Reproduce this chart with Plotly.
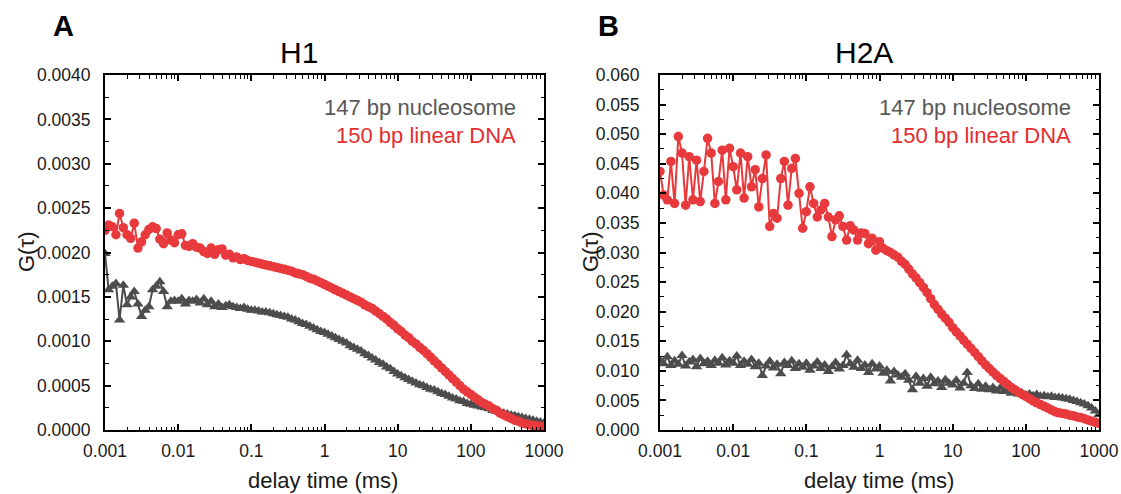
import plotly.graph_objects as go

# lag times (ms)
T = [0.001, 0.00112, 0.00126, 0.00141, 0.00158, 0.00178, 0.002, 0.00224, 0.00251, 0.00282,
     0.00316, 0.00355, 0.00398, 0.00447, 0.00501, 0.00562, 0.00631, 0.00708, 0.00794, 0.00891,
     0.01, 0.0112, 0.0126, 0.0141, 0.0158, 0.0178, 0.02, 0.0224, 0.0251, 0.0282,
     0.0316, 0.0355, 0.0398, 0.0447, 0.0501, 0.0562, 0.0631, 0.0708, 0.0794, 0.0891,
     0.1, 0.112, 0.126, 0.141, 0.158, 0.178, 0.2, 0.224, 0.251, 0.282,
     0.316, 0.355, 0.398, 0.447, 0.501, 0.562, 0.631, 0.708, 0.794, 0.891,
     1.0, 1.12, 1.26, 1.41, 1.58, 1.78, 2.0, 2.24, 2.51, 2.82,
     3.16, 3.55, 3.98, 4.47, 5.01, 5.62, 6.31, 7.08, 7.94, 8.91,
     10, 11.2, 12.6, 14.1, 15.8, 17.8, 20, 22.4, 25.1, 28.2,
     31.6, 35.5, 39.8, 44.7, 50.1, 56.2, 63.1, 70.8, 79.4, 89.1,
     100, 112, 126, 141, 158, 178, 200, 224, 251, 282,
     316, 355, 398, 447, 501, 562, 631, 708, 794, 891, 1000]

# Panel A: H1
h1_nucleosome = [0.00199, 0.00158, 0.00162, 0.00165, 0.00124, 0.00163, 0.00141, 0.0015, 0.00156, 0.00142,
                 0.00128, 0.00135, 0.00139, 0.00158, 0.00162, 0.00167, 0.00156, 0.00139, 0.00145, 0.00146,
                 0.00145, 0.00148, 0.00142, 0.00146, 0.00145, 0.00147, 0.00143, 0.00148, 0.00141, 0.00145,
                 0.00139, 0.00142, 0.00138, 0.0014, 0.00141, 0.00139, 0.00138, 0.00137, 0.00138, 0.00136,
                 0.00135, 0.00135, 0.00134, 0.00133, 0.00133, 0.00132, 0.00131, 0.0013, 0.00129, 0.00128,
                 0.00127, 0.00125, 0.00124, 0.00122, 0.0012, 0.00119, 0.00117, 0.00115, 0.00113, 0.00111,
                 0.0011, 0.00108, 0.00106, 0.00104, 0.00102, 0.001, 0.00098, 0.00095, 0.00093, 0.00091,
                 0.00089, 0.00086, 0.00084, 0.00081, 0.00079, 0.00076, 0.00074, 0.00071, 0.00069, 0.00066,
                 0.00063, 0.00061, 0.00059, 0.00057, 0.00055, 0.00053, 0.00051, 0.0005, 0.00048, 0.00046,
                 0.00045, 0.00043, 0.00041, 0.0004, 0.00038, 0.00036, 0.00035, 0.00033, 0.00032, 0.0003,
                 0.00029, 0.00028, 0.00027, 0.00026, 0.00025, 0.00024, 0.00022, 0.00021, 0.0002, 0.00019,
                 0.00018, 0.00017, 0.00016, 0.00015, 0.00014, 0.00013, 0.00012, 0.00011, 0.0001, 0.00009, 0.00008]

h1_linear_dna = [0.00225, 0.00231, 0.00229, 0.0022, 0.00244, 0.00228, 0.0022, 0.00216, 0.00233, 0.00205,
                 0.00212, 0.0022, 0.00226, 0.00229, 0.00227, 0.00215, 0.0021, 0.00222, 0.00214, 0.00211,
                 0.0022, 0.00221, 0.00208, 0.00207, 0.0021, 0.00206, 0.00205, 0.00201, 0.00199, 0.00205,
                 0.00198, 0.00203, 0.00204, 0.00197, 0.00198, 0.00194, 0.00195, 0.00192, 0.00193, 0.00191,
                 0.0019, 0.00189, 0.00188, 0.00187, 0.00186, 0.00185, 0.00184, 0.00183, 0.00182, 0.00181,
                 0.0018, 0.00179, 0.00177, 0.00176, 0.00175, 0.00173, 0.00171, 0.0017, 0.00168, 0.00166,
                 0.00164, 0.00162, 0.0016, 0.00158, 0.00156, 0.00154, 0.00152, 0.0015, 0.00148, 0.00146,
                 0.00144, 0.00141, 0.00139, 0.00137, 0.00134, 0.00131, 0.00128, 0.00125, 0.00121, 0.00118,
                 0.00114, 0.00111, 0.00107, 0.00104, 0.001, 0.00097, 0.00093, 0.0009, 0.00086, 0.00082,
                 0.00078, 0.00074, 0.0007, 0.00066, 0.00062, 0.00058, 0.00054, 0.0005, 0.00046, 0.00043,
                 0.0004, 0.00037, 0.00034, 0.00031, 0.00029, 0.00027, 0.00024, 0.00022, 0.00019, 0.00017,
                 0.00015, 0.00013, 0.00011, 0.0001, 0.00008, 0.00007, 0.00006, 0.00005, 0.00005, 0.00004, 0.00004]

# Panel B: H2A
h2a_nucleosome = [0.0118, 0.0112, 0.0124, 0.0109, 0.0117, 0.0111, 0.0126, 0.0108, 0.0115, 0.0119,
                  0.0107, 0.0121, 0.0112, 0.0116, 0.0109, 0.0118, 0.0113, 0.0122, 0.011, 0.0117,
                  0.0113, 0.0125, 0.0109, 0.0116, 0.0111, 0.0119, 0.0107, 0.0113, 0.0092, 0.0108,
                  0.0116, 0.0105, 0.0111, 0.0095, 0.0114, 0.0109, 0.0117, 0.0104, 0.0112, 0.0106,
                  0.0113, 0.0101, 0.0108, 0.0115, 0.0104, 0.011, 0.0099, 0.0107, 0.0114, 0.0103,
                  0.0109, 0.0127, 0.0112, 0.0106, 0.0118, 0.0104, 0.011, 0.0097, 0.0112, 0.0103,
                  0.0108, 0.0096, 0.0101, 0.0083, 0.0099, 0.0093, 0.0089, 0.0095, 0.0084, 0.0068,
                  0.0091, 0.0079, 0.0087, 0.0074, 0.0089, 0.0078, 0.0083, 0.0072, 0.0085, 0.0079,
                  0.0076, 0.0084, 0.0071, 0.0079, 0.0097, 0.0075, 0.007, 0.0078, 0.0069, 0.0074,
                  0.0068, 0.0072, 0.0066, 0.0071, 0.0065, 0.0067, 0.0062, 0.0065, 0.0061, 0.0062,
                  0.0059, 0.0061, 0.0058, 0.006, 0.0057, 0.0058, 0.0056, 0.0057, 0.0055, 0.0055,
                  0.0054, 0.0053, 0.0052, 0.005, 0.0048, 0.0046, 0.0044, 0.0041, 0.0037, 0.0032, 0.0026]

h2a_linear_dna = [0.0437, 0.0397, 0.0389, 0.0454, 0.0383, 0.0496, 0.0468, 0.038, 0.0462, 0.0389,
                  0.0456, 0.0386, 0.0437, 0.0493, 0.0468, 0.0383, 0.042, 0.0473, 0.0389, 0.0476,
                  0.0445, 0.0406, 0.0468, 0.0392, 0.0462, 0.0411, 0.044, 0.0377, 0.0425, 0.0465,
                  0.0344, 0.0366, 0.0358, 0.0425, 0.0454, 0.038, 0.0442, 0.0459, 0.04, 0.0341,
                  0.0369, 0.0411, 0.0383, 0.036, 0.0372, 0.0383, 0.036, 0.0327, 0.0355, 0.0362,
                  0.0344, 0.0321, 0.0345, 0.0338, 0.0321, 0.0333, 0.0332, 0.0315, 0.0324, 0.0304,
                  0.0318, 0.0307, 0.0303, 0.03, 0.0296, 0.0292, 0.0285, 0.028, 0.0272, 0.0264,
                  0.0257, 0.0249, 0.0241, 0.0232, 0.0222, 0.0212, 0.0204, 0.0196, 0.0189, 0.0182,
                  0.0173, 0.0166, 0.0159, 0.0152, 0.0145, 0.0138, 0.0131, 0.0124, 0.0117, 0.011,
                  0.0104, 0.0098, 0.0092, 0.0087, 0.0082, 0.0077, 0.0072, 0.0068, 0.0064, 0.006,
                  0.0057, 0.0053, 0.0049, 0.0046, 0.0043, 0.004, 0.0037, 0.0034, 0.0031, 0.0029,
                  0.0028, 0.0027, 0.0025, 0.0024, 0.0022, 0.0021, 0.0019, 0.0017, 0.0015, 0.0013, 0.0011]

x_tick_vals = [0.001, 0.01, 0.1, 1, 10, 100, 1000]
x_tick_text = ["0.001", "0.01", "0.1", "1", "10", "100", "1000"]
series_names = ["147 bp nucleosome", "150 bp linear DNA"]
panel_titles = ["H1", "H2A"]
panel_letters = ["A", "B"]

GRAY = "#4d4d4d"
RED = "#e8393d"
FONT = "Arial"
W, H = 1121, 494

x_minor = [m * d for d in [0.001, 0.01, 0.1, 1, 10, 100] for m in range(2, 10)]

fig = go.Figure()

def add_series(x, y, xa, ya, color, symbol, name, size):
    fig.add_trace(go.Scatter(
        x=x, y=y, xaxis=xa, yaxis=ya, mode="lines+markers", name=name,
        line=dict(color=color, width=2),
        marker=dict(color=color, symbol=symbol, size=size, line=dict(width=0)),
        showlegend=False,
    ))

add_series(T, h1_nucleosome, "x", "y", GRAY, "triangle-up", series_names[0], 10)
add_series(T, h1_linear_dna, "x", "y", RED, "circle", series_names[1], 9.5)
add_series(T, h2a_nucleosome, "x2", "y2", GRAY, "triangle-up", series_names[0], 10)
add_series(T, h2a_linear_dna, "x2", "y2", RED, "circle", series_names[1], 9.5)

# plot boxes in pixels
boxes = [(105, 544), (660, 1099)]
y_top, y_bot = 75, 430
ydom = [1 - y_bot / H, 1 - y_top / H]

common_axis = dict(
    showline=True, linewidth=2, linecolor="black", mirror="allticks",
    ticks="inside", ticklen=6, tickwidth=1.5, tickcolor="black",
    showgrid=False, zeroline=False, automargin=False,
    tickfont=dict(family=FONT, size=17.5, color="#1a1a1a"),
)

for i, (xl, xr) in enumerate(boxes):
    sfx = "" if i == 0 else str(i + 1)
    fig.layout["xaxis" + sfx] = dict(
        common_axis, domain=[xl / W, xr / W], type="log", range=[-3, 3],
        tickmode="array", tickvals=x_tick_vals, ticktext=x_tick_text,
        anchor="y" + sfx, ticklabelstandoff=4,
        minor=dict(ticks="inside", ticklen=3.5, tickwidth=1.3, tickcolor="black",
                   tickmode="array", tickvals=x_minor, showgrid=False),
    )

fig.layout["yaxis"] = dict(
    common_axis, domain=ydom, range=[0, 0.004], tick0=0, dtick=0.0005,
    tickformat=".4f", anchor="x", ticklabelstandoff=9,
    minor=dict(ticks="inside", ticklen=3.5, tickwidth=1.3, tickcolor="black",
               dtick=0.00025, showgrid=False),
)
fig.layout["yaxis2"] = dict(
    common_axis, domain=ydom, range=[0, 0.06], tick0=0, dtick=0.005,
    tickformat=".3f", anchor="x2", ticklabelstandoff=15,
    minor=dict(ticks="inside", ticklen=3.5, tickwidth=1.3, tickcolor="black",
               dtick=0.0025, showgrid=False),
)

def ann(text, xpx, ypx, size, color="#1a1a1a", xanchor="center", bold=False, angle=0):
    fig.add_annotation(
        text=("<b>%s</b>" % text) if bold else text,
        x=xpx / W, y=1 - ypx / H, xref="paper", yref="paper",
        xanchor=xanchor, yanchor="middle", showarrow=False, textangle=angle,
        font=dict(family=FONT, size=size, color=color),
    )

title_x = [299, 864]
letter_x = [63, 608]
legend_right = [518, 1073]
for i, (xl, xr) in enumerate(boxes):
    cx = (xl + xr) / 2
    ann(panel_letters[i], letter_x[i], 26, 29, color="black", bold=True)
    ann(panel_titles[i], title_x[i], 53, 30, color="black")
    ann(series_names[0], legend_right[i], 107, 22, color="#575757", xanchor="right")
    ann(series_names[1], legend_right[i], 135, 22, color="#e42d2f", xanchor="right")
    ann("delay time (ms)", cx - 1, 480, 22)
    ann("G(\u03c4)", [26, 590][i], 252, 22, angle=-90)

fig.update_layout(
    template="none",
    width=W, height=H, margin=dict(l=0, r=0, t=0, b=0, autoexpand=False),
    plot_bgcolor="white", paper_bgcolor="white", showlegend=False,
)

fig.write_html("out.html")
